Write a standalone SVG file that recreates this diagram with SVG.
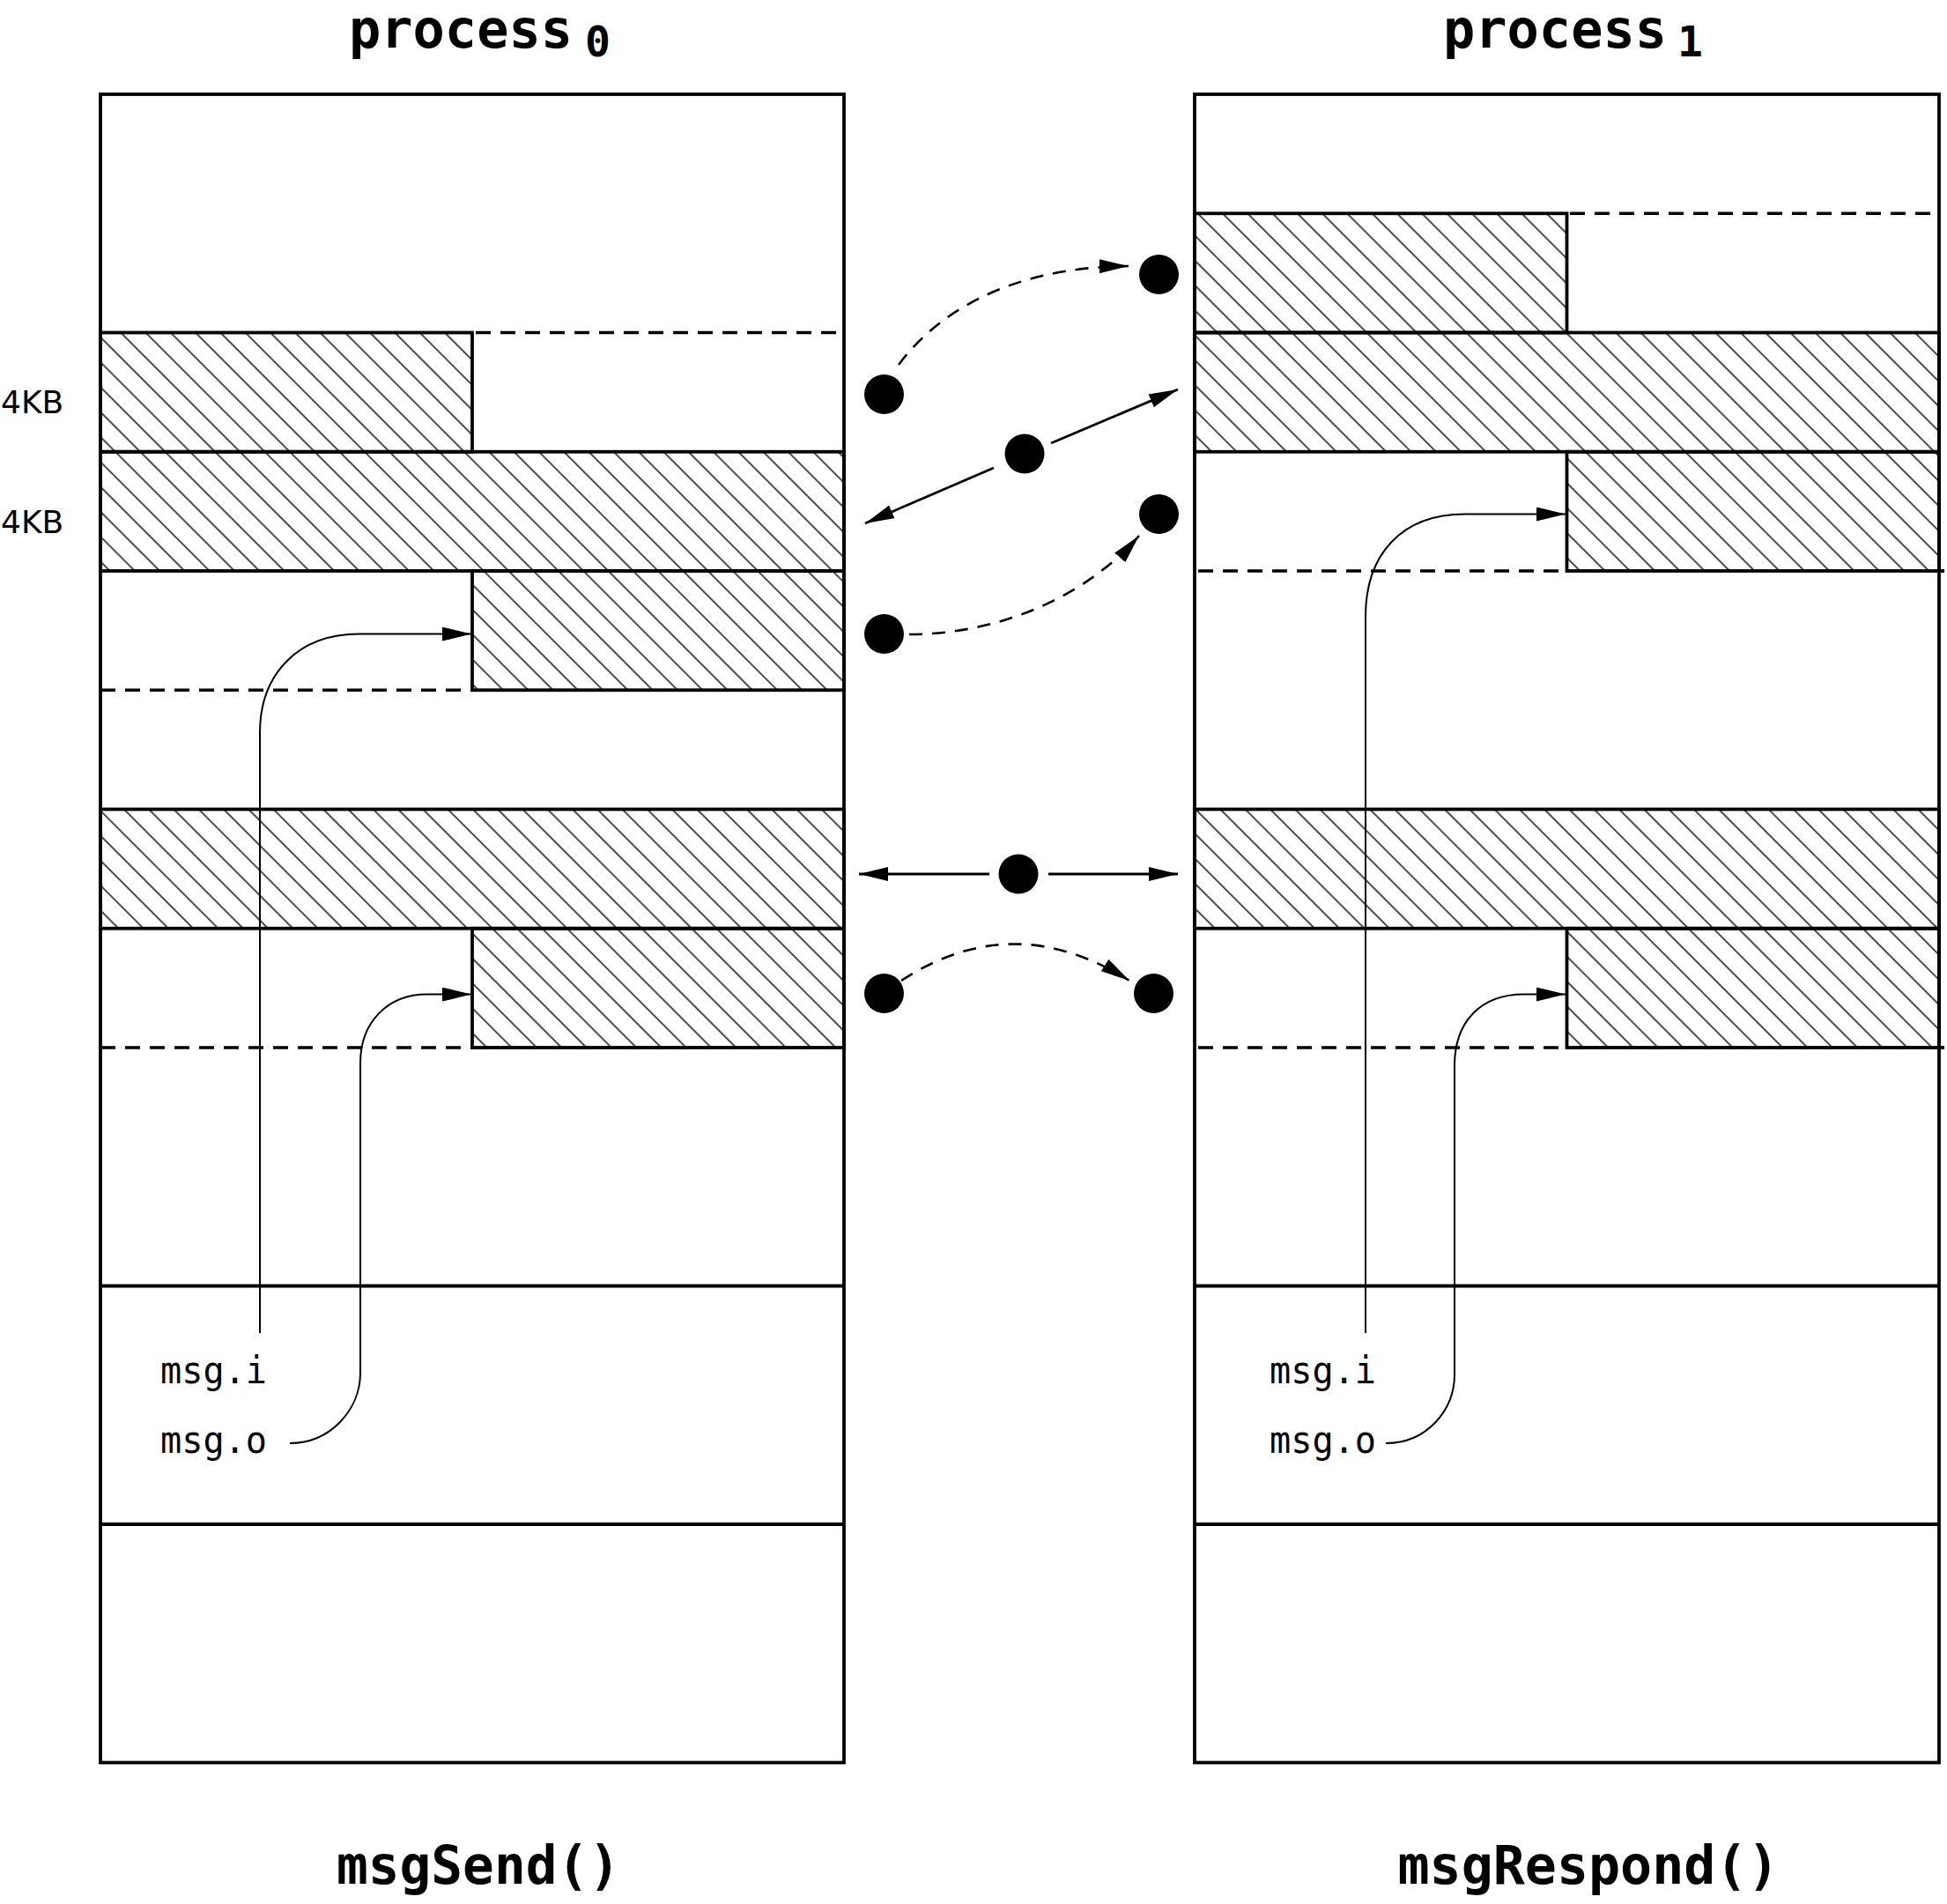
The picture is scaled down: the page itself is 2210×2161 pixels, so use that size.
<svg xmlns="http://www.w3.org/2000/svg" width="2210" height="2161" viewBox="0 0 2210 2161">
<style>
.box{fill:none;stroke:#000;stroke-width:3.8}
.hat{fill:url(#hatch);stroke:#000;stroke-width:3.8}
.sol{stroke:#000;stroke-width:3.8;fill:none}
.dash{stroke:#000;stroke-width:3.6;stroke-dasharray:17 11;fill:none}
.title{font-family:"DejaVu Sans Mono","Liberation Mono",monospace;font-weight:bold;font-size:60px;fill:#000}
.sub{font-family:"DejaVu Sans Mono","Liberation Mono",monospace;font-weight:bold;font-size:48px;fill:#000}
.mono{font-family:"DejaVu Sans Mono","Liberation Mono",monospace;font-size:42px;fill:#000}
.kb{font-family:"DejaVu Sans","Liberation Sans",sans-serif;font-size:36px;fill:#000}
.dot{fill:#000}
.arr{stroke:#000;stroke-width:2.8;fill:none;marker-end:url(#ah)}
.darr{stroke:#000;stroke-width:2.6;fill:none;stroke-dasharray:15 11;marker-end:url(#ah)}
.marr{stroke:#000;stroke-width:2;fill:none;marker-end:url(#ah)}
</style>
<defs>
<pattern id="hatch" patternUnits="userSpaceOnUse" width="20" height="20" patternTransform="rotate(-45)">
<line x1="10" y1="0" x2="10" y2="20" stroke="#000" stroke-width="1.4"/>
</pattern>
<marker id="ah" viewBox="0 0 33 16" refX="33" refY="8" markerWidth="33" markerHeight="16" markerUnits="userSpaceOnUse" orient="auto">
<path d="M0,0 L33,8 L0,16 Z" fill="#000" stroke="none"/>
</marker>
</defs>
<rect width="2210" height="2161" fill="#fff"/>

<g id="process0">
<rect class="hat" x="114" y="377.5" width="422" height="135.25"/>
<rect class="hat" x="114" y="512.75" width="844" height="135.25"/>
<rect class="hat" x="536" y="648" width="422" height="135.25"/>
<rect class="hat" x="114" y="918.5" width="844" height="135.25"/>
<rect class="hat" x="536" y="1053.75" width="422" height="135.25"/>
<line class="dash" x1="540" y1="377.5" x2="958" y2="377.5"/>
<line class="dash" x1="114" y1="783.25" x2="536" y2="783.25"/>
<line class="dash" x1="114" y1="1189" x2="536" y2="1189"/>
<line class="sol" x1="114" y1="1459.5" x2="958" y2="1459.5"/>
<line class="sol" x1="114" y1="1730" x2="958" y2="1730"/>
<rect class="box" x="114" y="107" width="844" height="1893.5"/>
<text class="title" x="396" y="54" textLength="254" lengthAdjust="spacingAndGlyphs">process</text>
<text class="sub" x="664" y="64">0</text>
<text class="kb" x="1" y="469">4KB</text>
<text class="kb" x="1" y="605">4KB</text>
<text class="mono" x="182" y="1570" textLength="121" lengthAdjust="spacingAndGlyphs">msg.i</text>
<text class="mono" x="182" y="1649" textLength="121" lengthAdjust="spacingAndGlyphs">msg.o</text>
<text class="title" x="543" y="2138" text-anchor="middle" textLength="322" lengthAdjust="spacingAndGlyphs">msgSend()</text>
</g>

<g id="process1">
<rect class="hat" x="1356" y="242.25" width="422.5" height="135.25"/>
<rect class="hat" x="1356" y="377.5" width="845" height="135.25"/>
<rect class="hat" x="1778.5" y="512.75" width="422.5" height="135.25"/>
<rect class="hat" x="1356" y="918.5" width="845" height="135.25"/>
<rect class="hat" x="1778.5" y="1053.75" width="422.5" height="135.25"/>
<line class="dash" x1="1782" y1="242.25" x2="2201" y2="242.25"/>
<line class="dash" x1="1360" y1="648" x2="1778.5" y2="648"/>
<line class="dash" x1="1360" y1="1189" x2="1778.5" y2="1189"/>
<line class="sol" x1="2199" y1="648" x2="2207" y2="648"/>
<line class="sol" x1="2199" y1="1189" x2="2207" y2="1189"/>
<line class="sol" x1="1356" y1="1459.5" x2="2201" y2="1459.5"/>
<line class="sol" x1="1356" y1="1730" x2="2201" y2="1730"/>
<rect class="box" x="1356" y="107" width="845" height="1893.5"/>
<text class="title" x="1638" y="54" textLength="254" lengthAdjust="spacingAndGlyphs">process</text>
<text class="sub" x="1904" y="64">1</text>
<text class="mono" x="1441" y="1570" textLength="121" lengthAdjust="spacingAndGlyphs">msg.i</text>
<text class="mono" x="1441" y="1649" textLength="121" lengthAdjust="spacingAndGlyphs">msg.o</text>
<text class="title" x="1803" y="2138" text-anchor="middle" textLength="433" lengthAdjust="spacingAndGlyphs">msgRespond()</text>
</g>

<g id="pages">
<circle class="dot" cx="1003.5" cy="447.5" r="22.5"/>
<circle class="dot" cx="1315.5" cy="311.5" r="22.5"/>
<circle class="dot" cx="1163" cy="515" r="22.5"/>
<circle class="dot" cx="1315.5" cy="583.5" r="22.5"/>
<circle class="dot" cx="1003.5" cy="719.5" r="22.5"/>
<circle class="dot" cx="1156" cy="992" r="22.5"/>
<circle class="dot" cx="1003.5" cy="1127.5" r="22.5"/>
<circle class="dot" cx="1309.5" cy="1127.5" r="22.5"/>
</g>

<g id="connectors">
<path class="darr" d="M1020,414 C1060,360 1140,303 1281,302"/>
<line class="arr" x1="1128" y1="531" x2="982" y2="594"/>
<line class="arr" x1="1193" y1="503" x2="1337" y2="442"/>
<path class="darr" d="M1032,720 C1130,720 1230,680 1293,608"/>
<line class="arr" x1="1123" y1="992" x2="975" y2="992"/>
<line class="arr" x1="1190" y1="992" x2="1337" y2="992"/>
<path class="darr" d="M1023,1113 Q1150,1030 1282,1113"/>
<path class="marr" d="M295,1513 L295,832 C295,765 338,719.6 408,719.6 L535,719.6"/>
<path class="marr" d="M329,1638 C375,1638 409,1600 409,1558 L409,1207 C409,1160 440,1128.6 485,1128.6 L535,1128.6"/>
<path class="marr" d="M1550,1513 L1550,700 C1550,630 1590,583.5 1663,583.5 L1777,583.5"/>
<path class="marr" d="M1573,1638 C1620,1638 1651,1600 1651,1560 L1651,1210 C1651,1160 1680,1128.5 1730,1128.5 L1777,1128.5"/>
</g>
</svg>
